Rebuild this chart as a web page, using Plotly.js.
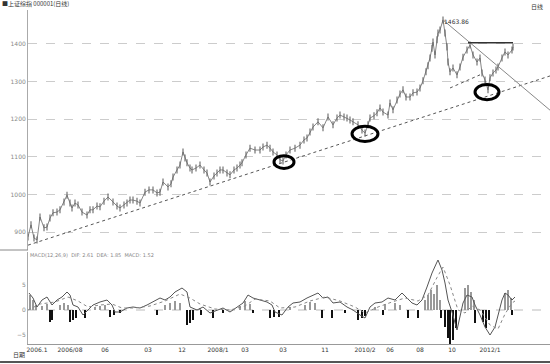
<!DOCTYPE html>
<html><head><meta charset="utf-8">
<script src="https://cdn.plot.ly/plotly-3.0.1.min.js"></script>
<style>html,body{margin:0;padding:0;background:#fff}#c{width:550px;height:364px}</style>
</head><body><div id="c"></div>
<script>
// ---- price (bar index, close) ----
const priceIdx = [0,3,6,9,12,16,19,22,25,29,32,36,39,42,44,47,50,54,59,62,65,69,72,76,80,85,89,92,96,99,102,105,109,112,117,121,125,129,132,135,140,143,145,149,152,155,157,159,162,164,168,172,176,179,182,186,189,192,195,199,202,206,209,212,214,218,222,227,232,235,239,242,245,249,252,255,258,262,267,272,276,279,282,285,290,295,300,305,309,312,316,319,322,325,330,334,337,340,342,346,349,352,355,360,362,365,369,372,375,378,382,385,389,392,395,398,400,402,404,405,407,409,410,412,415,417,419,420,422,425,429,432,435,439,442,445,449,452,454,457,460,462,465,468,470,474,477,480,484,485];
const priceVal = [887,919,884,879,940,911,913,937,951,953,959,980,998,977,964,977,972,953,945,959,959,969,967,982,993,980,969,964,972,977,985,985,982,977,1006,1012,1012,1004,1006,1033,1020,1028,1046,1065,1078,1113,1097,1084,1070,1065,1070,1078,1065,1057,1033,1049,1057,1065,1065,1057,1052,1065,1070,1078,1084,1105,1123,1118,1118,1126,1131,1123,1113,1105,1092,1089,1105,1118,1123,1131,1145,1150,1166,1179,1193,1177,1206,1185,1203,1211,1206,1203,1198,1193,1185,1171,1163,1185,1203,1209,1217,1230,1219,1211,1243,1225,1251,1267,1278,1259,1259,1270,1272,1283,1302,1326,1342,1363,1389,1405,1371,1411,1429,1437,1464,1429,1392,1352,1326,1336,1318,1339,1365,1384,1397,1371,1352,1363,1323,1304,1278,1310,1323,1331,1339,1363,1379,1371,1384,1392];

// ---- MACD ----
const difIdx = [1,5,9,14,19,24,29,34,39,42,45,50,55,60,65,72,79,84,87,92,99,105,112,119,125,132,137,142,147,154,159,162,169,175,182,189,195,202,209,215,220,225,232,239,244,247,254,260,265,272,279,285,290,295,300,305,312,319,325,332,337,342,347,354,360,367,374,379,384,389,394,399,404,409,410,414,417,420,424,429,432,435,439,444,447,452,457,462,467,470,474,477,480,484,487];
const difVal = [3.4,2.4,0.6,2,2.6,1,2,2.6,3.6,3,1,0.6,-1,0,1,1.6,2,1,-0.4,-0.4,0.4,0.6,0.4,1,1.6,2.4,2,2.6,3.6,4.4,3.6,0.6,0,0.6,-0.6,0,0.4,-0.4,0.6,1.4,3,2.4,2,1.6,1,-0.4,-1,0.6,1.4,1.6,2.4,3,3.4,2.4,2.6,1.4,1.6,0.6,0,-1,-1.6,0.6,1.4,1.6,2.4,2,3.4,2.4,1.4,1,2,4.6,7.4,9.6,10,8,5.4,2,-0.4,-4,-1.4,1.4,3,2.6,1,-1,-3.4,-5,-3.4,-1,2,3.4,3,2,2.6];
const deaIdx = [0,12,27,40,50,60,72,84,94,107,122,137,152,162,172,187,202,217,227,242,252,267,282,297,312,327,337,350,364,377,390,400,409,415,422,430,437,444,452,462,470,477,484,487];
const deaVal = [0,1.2,1.6,2.6,1.8,0.6,1,1.2,0.4,0.4,0.8,1.8,3.2,2.4,1.2,0.2,0,0.8,2.2,1.8,0.4,0.6,1.8,2.6,1.8,0.6,-0.6,0.6,1.6,2.4,1.8,3,6.5,8.6,5,0,-0.6,0.8,0,-3,-3.8,-0.8,1.4,1.8];
const barIdx = [2,5,8,14,19,32,36,40,67,72,77,137,142,147,152,172,212,217,222,262,277,282,287,347,357,367,372,397,400,403,406,409,412,437,440,443,446,477,480,483,
  22,24,42,45,48,57,82,86,92,129,159,162,165,173,185,195,225,242,246,251,294,304,317,330,334,337,355,380,390,413,417,420,422,425,428,447,455,458,461,484];
const barVal = [3,2,1,0.8,1.2,1,1.5,1,0.6,0.8,1,1,1.4,1.8,1.4,0.4,0.8,1.8,1.2,0.6,1,1.6,1.4,0.6,1.2,1.4,1,2,3,4,3.2,5,2,4.4,5,3.6,2,3.4,4,2.4,
  -2.4,-2,-2.4,-2,-1.6,-1.6,-1.4,-1,-0.6,-1,-3,-2.6,-2,-1,-1.6,-0.6,-0.6,-1.6,-1.4,-1.4,-1.6,-1.6,-0.6,-2,-1.6,-1.2,-1,-1.6,-1.6,-1.6,-3.4,-5.6,-8.6,-6,-3.6,-2.6,-2.4,-3.6,-2,-1];

// ---- axis ticks ----
const priceTicks = [900,1000,1100,1200,1300,1400];
const macdTicks = [-5,0,5];
const dateTickIdx = [9,42,77,120,154,190,217,255,297,337,362,392,424,462];
const dateTickText = ["2006.1","2006/08","06","03","12","2008/1","03","03","11","2010/2","06","08","10","2012/1"];

// ---- drawn studies ----
const upTrendIdx = [0,522], upTrendVal = [865,1315];
const downTrendIdx = [415,522], downTrendVal = [1464,1224];
const resistIdx = [440,485], resistVal = [1403,1403];
const supportIdx = [422,452], supportVal = [1283,1318];
const circleIdx = [256,337,459], circleVal = [1086,1161,1272];
const circleHalfW = [10,13,12], circleHalfH = [17,20,20];
const peakLabel = "1463.86";

const traces = [
  {x:priceIdx, y:priceVal, type:'scatter', mode:'lines+markers', xaxis:'x', yaxis:'y',
   line:{color:'#666', width:0.8}, marker:{symbol:'line-ns-open', size:5, line:{width:1.1,color:'#333'}}, hoverinfo:'skip'},
  {x:upTrendIdx, y:upTrendVal, type:'scatter', mode:'lines', xaxis:'x', yaxis:'y', line:{color:'#555', width:1, dash:'dot'}},
  {x:downTrendIdx, y:downTrendVal, type:'scatter', mode:'lines', xaxis:'x', yaxis:'y', line:{color:'#888', width:1}},
  {x:resistIdx, y:resistVal, type:'scatter', mode:'lines', xaxis:'x', yaxis:'y', line:{color:'#333', width:1.5}},
  {x:supportIdx, y:supportVal, type:'scatter', mode:'lines', xaxis:'x', yaxis:'y', line:{color:'#555', width:1, dash:'dot'}},
  {x:barIdx, y:barVal, type:'bar', xaxis:'x', yaxis:'y2', width:1.6,
   marker:{color:barVal.map(v=>v>=0?'#999':'#111')}},
  {x:difIdx, y:difVal, type:'scatter', mode:'lines', xaxis:'x', yaxis:'y2', line:{color:'#555', width:1}},
  {x:deaIdx, y:deaVal, type:'scatter', mode:'lines', xaxis:'x', yaxis:'y2', line:{color:'#888', width:1, dash:'dot'}}
];

const shapes = circleIdx.map((c,i)=>({type:'circle', xref:'x', yref:'y',
  x0:c-circleHalfW[i], x1:c+circleHalfW[i], y0:circleVal[i]-circleHalfH[i], y1:circleVal[i]+circleHalfH[i],
  line:{color:'#000', width:3}}));
shapes.push({type:'line', xref:'x', yref:'y2', x0:0, x1:522, y0:0, y1:0, layer:'below', line:{color:'#bbb', width:1, dash:'dash'}});
shapes.push({type:'line', xref:'paper', yref:'paper', x0:-0.0536, x1:0, y0:0.2814, y1:0.2814, line:{color:'#888', width:1}});
shapes.push({type:'line', xref:'paper', yref:'paper', x0:-0.0536, x1:1, y0:-0.054, y1:-0.054, line:{color:'#555', width:2}});

const annotations = [
  {xref:'x', yref:'y', x:428, y:1459, text:peakLabel, showarrow:false, font:{size:6, color:'#333', family:'DejaVu Sans'}},
  {xref:'paper', yref:'paper', x:-0.0536, y:1.018, xanchor:'left', yanchor:'middle', text:'■上证综指 000001(日线)', showarrow:false, font:{size:6, color:'#333', family:'Noto Sans CJK SC'}},
  {xref:'paper', yref:'paper', x:0.975, y:1.01, xanchor:'center', yanchor:'middle', text:'日线', showarrow:false, font:{size:6, color:'#333', family:'Noto Sans CJK SC'}},
  {xref:'paper', yref:'paper', x:0, y:0.266, xanchor:'left', yanchor:'middle', text:'MACD(12,26,9)  DIF: 2.61  DEA: 1.85  MACD: 1.52', showarrow:false, font:{size:5, color:'#888', family:'DejaVu Sans'}},
  {xref:'paper', yref:'paper', x:-0.018, y:-0.03, xanchor:'center', yanchor:'middle', text:'日期', showarrow:false, font:{size:6, color:'#333', family:'Noto Sans CJK SC'}}
];

const layout = {
  width:550, height:364, margin:{l:28, r:0, t:10, b:20},
  paper_bgcolor:'#fff', plot_bgcolor:'#fff', showlegend:false, bargap:0,
  xaxis:{range:[0,522], anchor:'y2', tickvals:dateTickIdx, ticktext:dateTickText, showgrid:false, zeroline:false,
    showline:true, linecolor:'#999', ticks:'', tickfont:{size:6, color:'#333', family:'DejaVu Sans'}},
  yaxis:{domain:[0.2814,1], range:[852.1,1490.4], tickvals:priceTicks, showgrid:true, gridcolor:'#ccc', griddash:'dash',
    zeroline:false, showline:true, linecolor:'#aaa', ticks:'', tickfont:{size:6, color:'#888', family:'DejaVu Sans'}},
  yaxis2:{domain:[0,0.2754], range:[-6.8,11.6], tickvals:macdTicks, showgrid:false, zeroline:false,
    showline:true, linecolor:'#aaa', ticks:'', tickfont:{size:6, color:'#888', family:'DejaVu Sans'}},
  shapes:shapes, annotations:annotations
};
Plotly.newPlot('c', traces, layout, {staticPlot:true, displayModeBar:false});
</script></body></html>
